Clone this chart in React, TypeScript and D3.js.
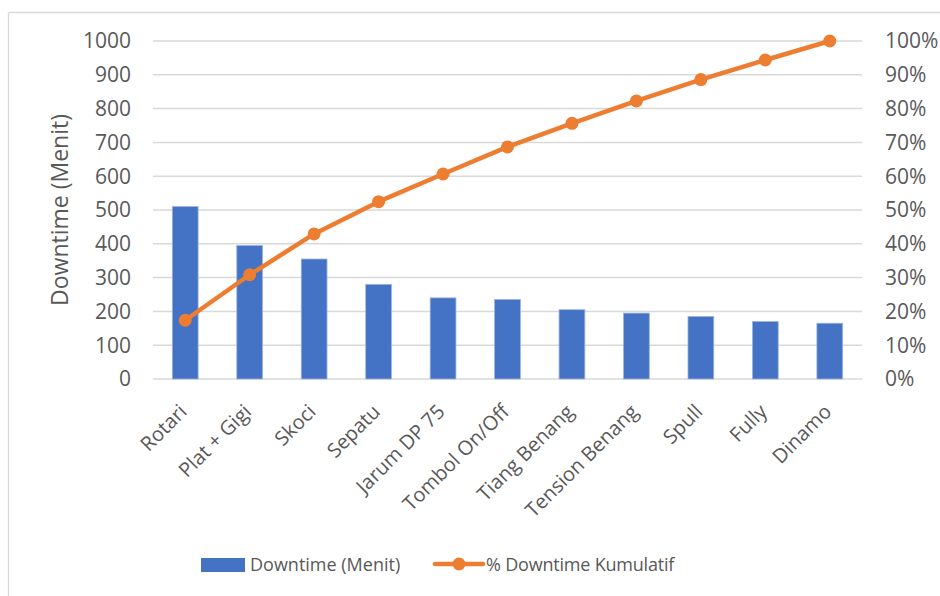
import React from "react";
import * as d3 from "d3";

const categories = [
  "Rotari",
  "Plat + Gigi",
  "Skoci",
  "Sepatu",
  "Jarum DP 75",
  "Tombol On/Off",
  "Tiang Benang",
  "Tension Benang",
  "Spull",
  "Fully",
  "Dinamo",
];
const downtime = [510, 395, 355, 280, 240, 235, 205, 195, 185, 170, 165];
const leftTicks = [0, 100, 200, 300, 400, 500, 600, 700, 800, 900, 1000];
const rightTicks = [0, 0.1, 0.2, 0.3, 0.4, 0.5, 0.6, 0.7, 0.8, 0.9, 1.0];

const W = 940;
const H = 596;
const FONT = "'Open Sans', 'Segoe UI', sans-serif";
const TEXT = "#595959";
const GRID = "#d9d9d9";
const BLUE = "#4472C4";
const ORANGE = "#ED7D31";

export default function App() {
  const left = 153;
  const right = 862;
  const top = 41;
  const bottom = 379;

  const total = d3.sum(downtime);
  const cumulative: number[] = Array.from(d3.cumsum(downtime), (v) => v / total);

  const x = d3.scaleBand<string>().domain(categories).range([left, right]).paddingInner(0.6).paddingOuter(0.3);
  const y = d3.scaleLinear().domain([0, 1000]).range([bottom, top]);
  const yPct = d3.scaleLinear().domain([0, 1]).range([bottom, top]);
  const cx = (c: string) => (x(c) as number) + x.bandwidth() / 2;

  const line = d3
    .line<number>()
    .x((_, i) => cx(categories[i]))
    .y((d) => yPct(d));

  return (
    <svg
      width={W}
      height={H}
      style={{ position: "absolute", left: 0, top: 0, background: "#fff" }}
      fontFamily={FONT}
    >
      {/* chart frame */}
      <line x1={8.5} y1={12.5} x2={W} y2={12.5} stroke={GRID} strokeWidth={1.3} />
      <line x1={8.5} y1={12.5} x2={8.5} y2={H} stroke={GRID} strokeWidth={1.3} />

      {/* gridlines */}
      {leftTicks.map((t) => (
        <line key={t} x1={left} x2={right} y1={y(t)} y2={y(t)} stroke={GRID} strokeWidth={1.5} />
      ))}

      {/* left axis labels */}
      {leftTicks.map((t) => (
        <text key={t} x={131} y={y(t)} dy="0.35em" textAnchor="end" fontSize={21} fill={TEXT}>
          {t}
        </text>
      ))}

      {/* right axis labels */}
      {rightTicks.map((t) => (
        <text key={t} x={885} y={yPct(t)} dy="0.35em" textAnchor="start" fontSize={21} fill={TEXT}>
          {d3.format(".0%")(t)}
        </text>
      ))}

      {/* axis title */}
      <text
        transform={`translate(60, ${(top + bottom) / 2}) rotate(-90)`}
        textAnchor="middle"
        dy="0.35em"
        fontSize={23}
        fill={TEXT}
      >
        Downtime (Menit)
      </text>

      {/* bars */}
      {categories.map((c, i) => (
        <rect
          key={c}
          x={x(c)}
          y={y(downtime[i])}
          width={x.bandwidth()}
          height={bottom - y(downtime[i])}
          fill={BLUE}
          stroke="#9db4e0"
          strokeWidth={0.8}
        />
      ))}

      {/* cumulative line */}
      <path d={line(cumulative) ?? ""} fill="none" stroke={ORANGE} strokeWidth={4.5} strokeLinejoin="round" />
      {cumulative.map((v, i) => (
        <circle key={i} cx={cx(categories[i])} cy={yPct(v)} r={6.5} fill={ORANGE} />
      ))}

      {/* category labels */}
      {categories.map((c) => (
        <text
          key={c}
          transform={`translate(${cx(c) - 2}, ${bottom + 29}) rotate(-45)`}
          textAnchor="end"
          dy="0.35em"
          fontSize={20}
          fill={TEXT}
        >
          {c}
        </text>
      ))}

      {/* legend */}
      <rect x={201} y={558} width={44} height={14} fill={BLUE} />
      <text x={250} y={565} dy="0.35em" fontSize={18} fill={TEXT}>
        Downtime (Menit)
      </text>
      <line x1={435} x2={483} y1={564} y2={564} stroke={ORANGE} strokeWidth={4.5} strokeLinecap="round" />
      <circle cx={459} cy={564} r={6.5} fill={ORANGE} />
      <text x={486} y={565} dy="0.35em" fontSize={18} fill={TEXT} letterSpacing={-0.2}>
        % Downtime Kumulatif
      </text>
    </svg>
  );
}
